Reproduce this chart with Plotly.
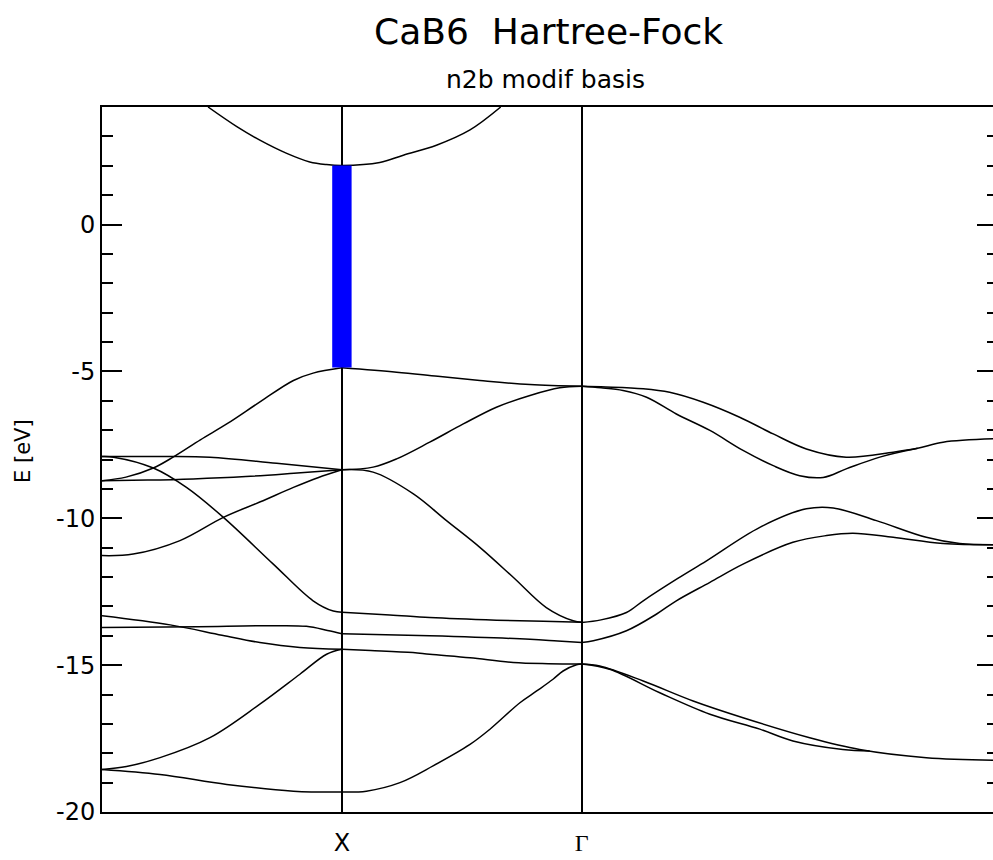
import plotly.graph_objects as go

# ---------------- data (k in path units M-X-Γ-R, E in eV) ----------------
x_tick_vals = [0.5, 1.0]
x_tick_text = ["X", "<span style='font-family:\"Liberation Serif\"'>Γ</span>"]
y_tick_vals = [-20, -15, -10, -5, 0]
y_tick_text = ["-20", "-15", "-10", "-5", "0"]

# band gap marker at X
gap_k = [0.5]
gap_lo = [-4.87]
gap_hi = [2.01]

# conduction band
cb_k = [0.221, 0.281, 0.329, 0.385, 0.433, 0.468, 0.5, 0.579, 0.628, 0.697, 0.767, 0.831]
cb_e = [4.0, 3.33, 2.87, 2.42, 2.13, 2.04, 2.01, 2.11, 2.36, 2.70, 3.22, 4.0]

# M - X segment
mx_k1 = [0, 0.05, 0.107, 0.149, 0.205, 0.26, 0.33, 0.399, 0.44, 0.5]
mx_e1 = [-8.72, -8.60, -8.29, -7.91, -7.33, -6.79, -6.03, -5.31, -5.06, -4.88]
mx_k2 = [0, 0.11, 0.225, 0.364, 0.5]
mx_e2 = [-7.90, -7.90, -7.92, -8.13, -8.35]
mx_k3 = [0, 0.024, 0.107, 0.176, 0.253, 0.357, 0.44, 0.482, 0.5]
mx_e3 = [-7.90, -7.92, -8.29, -8.95, -9.97, -11.56, -12.81, -13.16, -13.20]
mx_k4 = [0, 0.095, 0.19, 0.30, 0.40, 0.5]
mx_e4 = [-8.72, -8.70, -8.66, -8.58, -8.47, -8.35]
mx_k5 = [0, 0.065, 0.1625, 0.253, 0.33, 0.399, 0.45, 0.5]
mx_e5 = [-11.27, -11.22, -10.76, -9.97, -9.44, -8.95, -8.62, -8.35]
mx_k6 = [0, 0.142, 0.25, 0.329, 0.4125, 0.5]
mx_e6 = [-13.32, -13.63, -13.98, -14.23, -14.40, -14.46]
mx_k7 = [0, 0.2, 0.35, 0.426, 0.47, 0.5]
mx_e7 = [-13.72, -13.69, -13.66, -13.68, -13.82, -13.93]
mx_k8 = [0, 0.051, 0.121, 0.225, 0.329, 0.4125, 0.468, 0.5]
mx_e8 = [-18.55, -18.45, -18.15, -17.47, -16.33, -15.31, -14.63, -14.46]
mx_k9 = [0, 0.121, 0.26, 0.399, 0.5]
mx_e9 = [-18.55, -18.72, -19.06, -19.29, -19.32]

# X - Γ segment
xg_k1 = [0.5, 0.614, 0.70, 0.7875, 0.892, 1.0]
xg_e1 = [-4.88, -5.03, -5.17, -5.31, -5.45, -5.51]
xg_k2 = [0.5, 0.565, 0.614, 0.683, 0.753, 0.822, 0.892, 0.954, 1.0]
xg_e2 = [-8.35, -8.26, -7.98, -7.41, -6.79, -6.22, -5.82, -5.56, -5.51]
xg_k3 = [0.5, 0.565, 0.649, 0.718, 0.7875, 0.857, 0.926, 0.982, 1.0]
xg_e3 = [-8.35, -8.43, -9.17, -10.08, -10.99, -12.01, -13.04, -13.49, -13.54]
xg_k4 = [0.5, 0.6, 0.683, 0.822, 0.92, 1.0]
xg_e4 = [-13.20, -13.29, -13.38, -13.47, -13.51, -13.54]
xg_k5 = [0.5, 0.683, 0.892, 0.95, 1.0]
xg_e5 = [-13.93, -14.00, -14.12, -14.18, -14.23]
xg_k6 = [0.5, 0.56, 0.648, 0.683, 0.767, 0.857, 0.93, 1.0]
xg_e6 = [-14.46, -14.50, -14.57, -14.63, -14.75, -14.91, -14.95, -14.96]
xg_k7 = [0.5, 0.551, 0.621, 0.69, 0.767, 0.808, 0.871, 0.906, 0.940, 0.961, 0.989, 1.0]
xg_e7 = [-19.32, -19.29, -19.0, -18.43, -17.70, -17.19, -16.28, -15.88, -15.48, -15.20, -14.99, -14.96]

# Γ - R segment
gr_k1 = [1.0, 1.05, 1.128, 1.183, 1.253, 1.329, 1.399, 1.468, 1.551, 1.649, 1.70, 1.753, 1.87]
gr_e1 = [-5.51, -5.53, -5.59, -5.71, -6.05, -6.56, -7.13, -7.64, -7.92, -7.75, -7.62, -7.41, -7.29]
gr_k2 = [1.0, 1.04, 1.086, 1.135, 1.197, 1.267, 1.336, 1.399, 1.454, 1.503, 1.551, 1.621, 1.70]
gr_e2 = [-5.51, -5.56, -5.65, -5.88, -6.45, -7.01, -7.69, -8.21, -8.55, -8.61, -8.32, -7.92, -7.62]
gr_k3 = [1.0, 1.04, 1.093, 1.128, 1.20, 1.26, 1.371, 1.468, 1.524, 1.614, 1.718, 1.7875, 1.87]
gr_e3 = [-13.55, -13.46, -13.21, -12.81, -12.05, -11.45, -10.31, -9.68, -9.65, -10.08, -10.65, -10.86, -10.90]
gr_k4 = [1.0, 1.024, 1.093, 1.156, 1.197, 1.267, 1.336, 1.44, 1.51, 1.565, 1.649, 1.753, 1.87]
gr_e4 = [-14.23, -14.17, -13.83, -13.26, -12.81, -12.18, -11.56, -10.82, -10.59, -10.51, -10.65, -10.86, -10.90]
gr_k5 = [1.0, 1.0375, 1.128, 1.232, 1.336, 1.475, 1.579, 1.718, 1.87]
gr_e5 = [-14.96, -15.03, -15.54, -16.22, -16.79, -17.47, -17.87, -18.15, -18.24]
gr_k6 = [1.0, 1.058, 1.1625, 1.267, 1.371, 1.44, 1.544, 1.60]
gr_e6 = [-14.96, -15.14, -15.94, -16.67, -17.18, -17.58, -17.87, -17.92]

bands = [
    (cb_k, cb_e),
    (mx_k1, mx_e1), (mx_k2, mx_e2), (mx_k3, mx_e3), (mx_k4, mx_e4), (mx_k5, mx_e5),
    (mx_k6, mx_e6), (mx_k7, mx_e7), (mx_k8, mx_e8), (mx_k9, mx_e9),
    (xg_k1, xg_e1), (xg_k2, xg_e2), (xg_k3, xg_e3), (xg_k4, xg_e4), (xg_k5, xg_e5),
    (xg_k6, xg_e6), (xg_k7, xg_e7),
    (gr_k1, gr_e1), (gr_k2, gr_e2), (gr_k3, gr_e3), (gr_k4, gr_e4), (gr_k5, gr_e5),
    (gr_k6, gr_e6),
]

FONT = "DejaVu Sans"

fig = go.Figure()

for k, e in bands:
    fig.add_trace(go.Scatter(
        x=k, y=e, mode="lines",
        line=dict(color="black", width=1.5, shape="spline", smoothing=1.0),
        showlegend=False, hoverinfo="skip",
    ))

# gap bar on the right-hand (mirror) axis, which shares the same range
fig.add_trace(go.Bar(
    x=gap_k, base=gap_lo, y=[h - l for h, l in zip(gap_hi, gap_lo)],
    width=0.0404, marker=dict(color="#0000ff", line=dict(width=0)),
    showlegend=False, hoverinfo="skip", yaxis="y2",
))

fig.update_layout(
    width=993, height=860,
    margin=dict(l=102, r=0, t=107, b=48, pad=0),
    paper_bgcolor="white", plot_bgcolor="white",
    font=dict(family=FONT, color="black"),
    xaxis=dict(
        range=[0, 1.857], tickmode="array", tickvals=x_tick_vals, ticktext=x_tick_text,
        showgrid=True, gridcolor="black", gridwidth=1.5,
        showline=True, linecolor="black", linewidth=2, mirror=True,
        ticks="", zeroline=False, tickfont=dict(family=FONT, size=24, color="black"),
        ticklabelstandoff=8,
    ),
    yaxis=dict(
        range=[-20, 4], tickmode="array", tickvals=y_tick_vals, ticktext=y_tick_text,
        ticks="inside", ticklen=20, tickwidth=2, tickcolor="black",
        minor=dict(tickmode="linear", tick0=0, dtick=1, ticks="inside",
                   ticklen=11, tickwidth=2, tickcolor="black"),
        showline=True, linecolor="black", linewidth=2, mirror=False,
        showgrid=False, zeroline=False,
        tickfont=dict(family=FONT, size=24, color="black"),
    ),
    yaxis2=dict(
        overlaying="y", side="right", anchor="x", range=[-20, 4],
        tickmode="array", tickvals=y_tick_vals,
        ticks="inside", ticklen=16, tickwidth=2, tickcolor="black",
        minor=dict(tickmode="linear", tick0=0, dtick=1, ticks="inside",
                   ticklen=6, tickwidth=2, tickcolor="black"),
        showticklabels=False, showline=False, showgrid=False, zeroline=False,
    ),
    annotations=[
        dict(text="CaB6  Hartree-Fock", xref="paper", yref="paper", x=0.5006, y=1.1064,
             xanchor="center", yanchor="middle", showarrow=False,
             font=dict(family=FONT, size=36, color="black")),
        dict(text="n2b modif basis", xref="paper", yref="paper", x=0.498, y=1.0383,
             xanchor="center", yanchor="middle", showarrow=False,
             font=dict(family=FONT, size=25, color="black")),
        dict(text="E [eV]", xref="paper", yref="paper", x=-0.0887, y=0.512,
             xanchor="center", yanchor="middle", textangle=-90, showarrow=False,
             font=dict(family=FONT, size=21, color="black")),
    ],
    showlegend=False,
)

fig.write_html("out.html")
